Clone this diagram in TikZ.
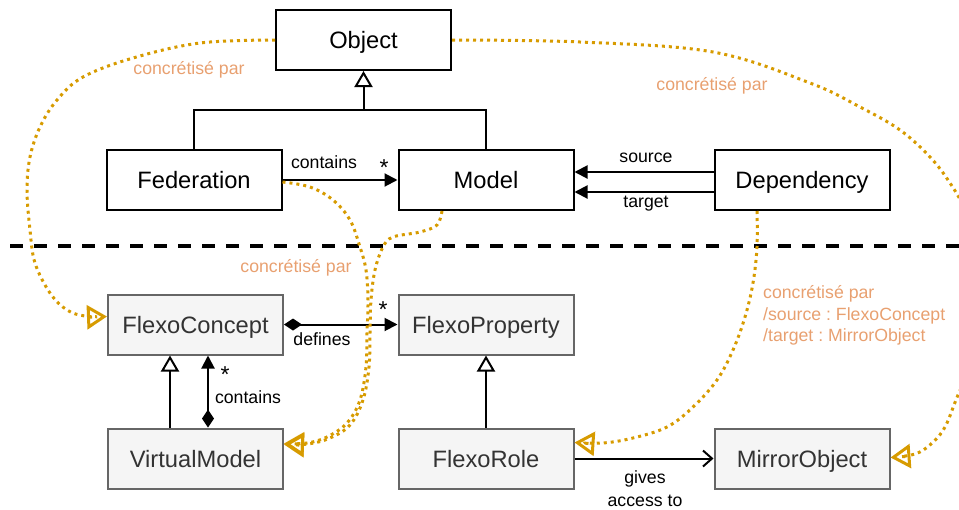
\documentclass[tikz,border=0pt]{standalone}
\usepackage{fontspec}
\setmainfont{Liberation Sans}
\usetikzlibrary{arrows.meta}
\definecolor{dotor}{HTML}{D79B00}
\definecolor{lblor}{HTML}{E8A070}
\definecolor{grayb}{HTML}{666666}
\definecolor{grayf}{HTML}{F5F5F5}
\definecolor{grayt}{HTML}{333333}
\frenchspacing
\begin{document}
\begin{tikzpicture}[x=1pt,y=-1pt,
  boxbase/.style={line width=2pt, minimum width=175pt, minimum height=60pt, inner sep=0pt,
    font=\fontsize{23.7}{28}\selectfont, text height=17pt, text depth=0pt},
  blackbox/.style={boxbase, draw=black, fill=white},
  graybox/.style={boxbase, draw=grayb, fill=grayf, text=grayt},
  lbl/.style={font=\fontsize{17.7}{21.5}\selectfont, inner sep=0pt},
  star/.style={font=\fontsize{23}{23}\selectfont, inner sep=0pt},
  olbl/.style={lbl, text=lblor},
  inh/.style={line width=2pt, -{Triangle[open,length=16pt,width=18pt,fill=white]}},
  assoc/.style={line width=2pt, -{Triangle[length=13pt,width=13pt]}},
  comp/.style={line width=2pt, {Diamond[length=18pt,width=12pt]}-{Triangle[length=13pt,width=13pt]}},
  openarr/.style={line width=2pt, -{Straight Barb[length=9pt,width=16pt,line width=2pt]}},
  real/.style={dotor, line width=3pt, dash pattern=on 3pt off 4pt,
    -{Triangle[open,length=20pt,width=24pt,line width=3pt]}},
  sep/.style={line width=4.5pt, dash pattern=on 13pt off 11pt}
]
\useasboundingbox (0,0) rectangle (959,509);
\clip (0,0) rectangle (959,509);

% upper level
\node[blackbox] (obj) at (363.5,40) {Object};
\node[blackbox] (fed) at (194,180) {Federation};
\node[blackbox] (model) at (486,180) {Model};
\node[blackbox] (dep) at (802,180) {Dependency};

% lower level
\node[graybox] (fc) at (195.5,324.5) {FlexoConcept};
\node[graybox] (fp) at (486,324.5) {FlexoProperty};
\node[graybox] (vm) at (195.5,458.5) {VirtualModel};
\node[graybox] (fr) at (486,458.5) {FlexoRole};
\node[graybox] (mo) at (802,458.5) {MirrorObject};

% separator
\coordinate (sepL) at (10,246);
\coordinate (sepR) at (965,246);
\draw[sep] (sepL) -- (sepR);

% inheritance to Object
\coordinate (j) at (363.5,110);
\draw[line width=2pt] (fed.north) |- (j);
\draw[line width=2pt] (model.north) |- (j);
\draw[inh] (j) -- (obj.south);

% Federation contains Model
\draw[assoc] (fed.east) -- (model.west);
\node[lbl, anchor=base] (l1) at (324,168) {contains};
\node[star, anchor=base] (s1) at (384,175) {*};

% Dependency source / target
\draw[assoc] ([yshift=8pt]dep.west) -- ([yshift=8pt]model.east);
\draw[assoc] ([yshift=-12pt]dep.west) -- ([yshift=-12pt]model.east);
\node[lbl, anchor=base] (l2) at (646,162) {source};
\node[lbl, anchor=base] (l3) at (646,207.5) {target};

% FlexoConcept defines FlexoProperty
\draw[comp] (fc.east) -- (fp.west);
\node[lbl, anchor=base] (l4) at (322,345) {defines};
\node[star, anchor=base] (s2) at (383,317) {*};

% VirtualModel / FlexoConcept
\draw[inh] ([xshift=-25.5pt]vm.north) -- ([xshift=-25.5pt]fc.south);
\draw[comp] ([xshift=12.5pt]vm.north) -- ([xshift=12.5pt]fc.south);
\node[star, anchor=base] (s3) at (225,382) {*};
\node[lbl, anchor=base] (l5) at (248,403) {contains};

% FlexoRole
\draw[inh] (fr.north) -- (fp.south);
\draw[openarr] (fr.east) -- (mo.west);
\node[lbl, align=center, anchor=north, font=\fontsize{17.7}{23.5}\selectfont] (l6) at (645,470.3) {gives\\access to};

% realisation curves
\draw[real] plot[smooth, tension=0.6] coordinates {(obj.west) (200,43) (133,58) (83,77) (57,100) (40,127) (30,157) (27,190) (30,230) (35,263) (50,293) (67,310) (85,316) ([yshift=8pt]fc.west)};
\node[olbl, anchor=base] (o1) at (189,74) {concrétisé par};

\draw[real] plot[smooth, tension=0.6] coordinates {(obj.east) (580,42) (713,52) (810,83) (860,107) (900,130) (930,157) (950,183) (966,212) (982,260) (988,300) (978,350) (958,395) (945,427) (931,444) (915,454) ([yshift=1pt]mo.east)};
\node[olbl, anchor=base] (o2) at (712,90) {concrétisé par};

\draw[real] plot[smooth, tension=0.6] coordinates {([yshift=-2pt]fed.east) (310,187) (333,200) (350,220) (360,247) (366,270) (368,300) (367,333) (366,367) (360,400) (347,423) (327,437) (307,443) ([yshift=15pt]vm.east)};
\draw[real] plot[smooth, tension=0.6] coordinates {([xshift=-44pt]model.south) (437,225) (420,232) (393,237) (383,247) (375,270) (371,300) (370,333) (369,367) (363,400) (350,425) (330,438) (308,444) ([yshift=14pt]vm.east)};
\node[olbl, anchor=base] (o3) at (296,272.3) {concrétisé par};

\draw[real] plot[smooth, tension=0.6] coordinates {([xshift=-45pt]dep.south) (757,247) (753,283) (745,317) (733,350) (717,380) (693,407) (667,427) (633,438) (603,443) ([yshift=16pt]fr.east)};
\node[olbl, align=left, anchor=north west] (o4) at (763,285.3) {concrétisé par\\/source : FlexoConcept\\/target : MirrorObject};
\end{tikzpicture}
\end{document}
